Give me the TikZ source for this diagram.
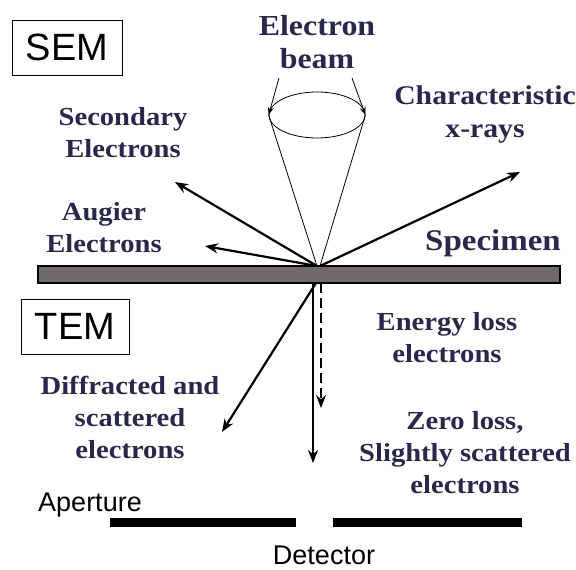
\documentclass[tikz,border=0pt]{standalone}
\usepackage{fontspec}
\setmainfont{Liberation Serif}
\setsansfont{Liberation Sans}
\newfontfamily\labfont[FakeStretch=1.1]{Liberation Serif}
\usetikzlibrary{arrows.meta,shapes.geometric}
\definecolor{labcol}{RGB}{40,40,75}
\definecolor{barcol}{RGB}{110,106,106}
\begin{document}
\begin{tikzpicture}[x=1pt,y=-1pt,
 lab/.style={font=\labfont\bfseries\fontsize{26}{32}\selectfont, text=labcol, align=center, inner sep=0pt},
 sanslab/.style={font=\sffamily\fontsize{27}{30}\selectfont, inner sep=0pt},
 boxlab/.style={draw, line width=1pt, font=\sffamily\fontsize{38}{40}\selectfont, minimum width=110, minimum height=55, inner sep=0pt},
 ray/.style={line width=2.2pt, -{Stealth[length=13pt,width=10pt]}},
 thinline/.style={line width=0.8pt}
]
\useasboundingbox (0,0) rectangle (576,570);
% boxes
\node[boxlab] (sem) at (67,47.5) {SEM};
\node[boxlab, minimum width=108] (tem) at (75,326.5) {TEM};
% specimen
\node[draw, line width=1.2pt, fill=barcol, minimum width=522, minimum height=17, inner sep=0pt] (spec) at (299,274.5) {};
\coordinate (hit) at (317,266);
\coordinate (hitb) at (316,283);
% lens
\node[draw, ellipse, thinline, minimum width=96, minimum height=46, inner sep=0pt] (lens) at (317,115) {};
\coordinate (bl) at (279,78);
\coordinate (br) at (352,78);
\draw[thinline, -{Stealth[length=8pt,width=6pt]}] (bl) -- (lens.west);
\draw[thinline, -{Stealth[length=8pt,width=6pt]}] (br) -- (lens.east);
\draw[thinline] (lens.west) -- (hit);
\draw[thinline] (lens.east) -- (320,266);
% rays
\coordinate (se) at (175,182);
\coordinate (au) at (205,246);
\coordinate (xr) at (520,172);
\coordinate (df) at (222,432);
\coordinate (zl) at (313,463);
\coordinate (el) at (321,408);
\draw[ray] (hit) -- (se);
\draw[ray] (hit) -- (au);
\draw[ray] (320,266) -- (xr);
\draw[ray] (hitb) -- (df);
\draw[ray] (313,283) -- (zl);
\draw[ray, dash pattern=on 10pt off 5pt] (321,283) -- (el);
% aperture
\node[fill=black, minimum width=186, minimum height=9, inner sep=0pt] (apl) at (203,522.5) {};
\node[fill=black, minimum width=189, minimum height=9, inner sep=0pt] (apr) at (427.5,522.5) {};
% labels
\node[lab, font=\labfont\bfseries\fontsize{29}{33}\selectfont] (beam) at (317,42) {Electron\\beam};
\node[lab] (sel) at (123,133) {Secondary\\Electrons};
\node[lab] (aul) at (104,228) {Augier\\Electrons};
\node[lab, font=\labfont\bfseries\fontsize{27}{33}\selectfont] (xrl) at (485,115) {Characteristic\\x-rays};
\node[lab, font=\labfont\bfseries\fontsize{30}{33}\selectfont] (spl) at (493,243) {Specimen};
\node[lab] (ell) at (447,338) {Energy loss\\electrons};
\node[lab] (zll) at (465,453) {Zero loss,\\Slightly scattered\\electrons};
\node[lab] (dfl) at (130,417) {Diffracted and\\scattered\\electrons};
\node[sanslab] (apt) at (90,505) {Aperture};
\node[sanslab] (det) at (324,555) {Detector};
\end{tikzpicture}
\end{document}
